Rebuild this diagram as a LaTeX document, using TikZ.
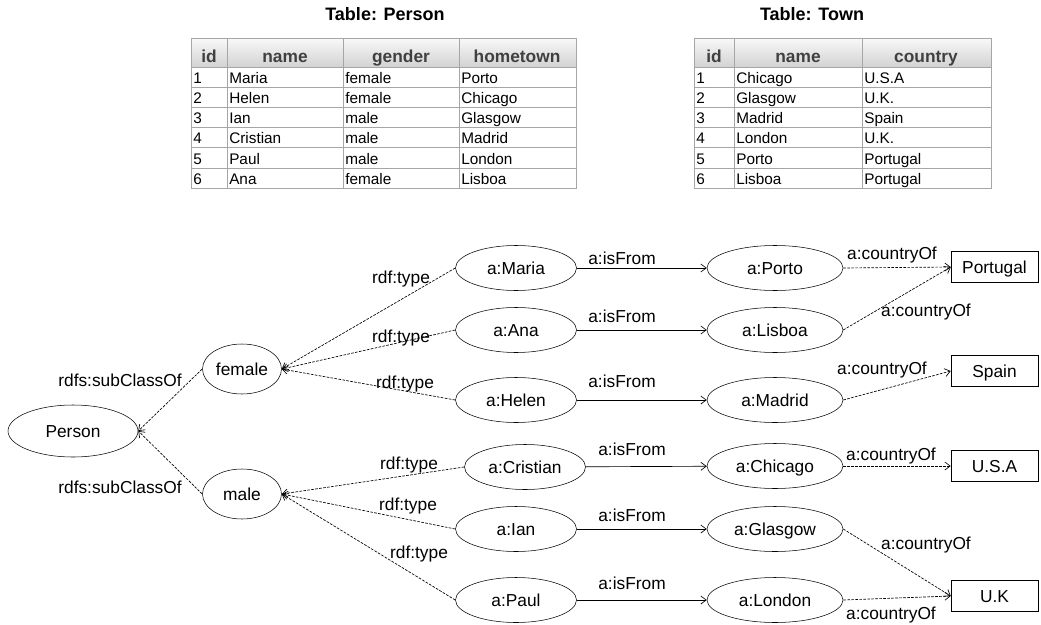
\documentclass[tikz,border=0pt]{standalone}
\usepackage{fontspec}
\setmainfont{Liberation Sans}
\usetikzlibrary{shapes.geometric,arrows.meta}

\begin{document}
\begin{tikzpicture}[x=0.75pt, y=-0.75pt,
    every node/.style={font=\fontsize{13}{15}\selectfont, text height=9.3pt, text depth=0pt},
    cls/.style={draw, ellipse, inner sep=0pt, minimum width=59.25pt, minimum height=37.5pt},
    ind/.style={draw, ellipse, inner sep=0pt, minimum width=90.75pt, minimum height=33.75pt},
    town/.style={draw, ellipse, inner sep=0pt, minimum width=102pt, minimum height=33.75pt},
    lit/.style={draw, rectangle, inner sep=0pt, minimum width=65.25pt, minimum height=23.25pt},
    rel/.style={-{Straight Barb[length=4pt,width=6pt]}, line width=0.5pt},
    dotrel/.style={rel, dash pattern=on 2pt off 1pt},
    cell/.style={anchor=base west, inner sep=0pt, font=\fontsize{11.5}{13}\selectfont},
    head/.style={anchor=base, inner sep=0pt, text=black!75, font=\bfseries\fontsize{13}{15}\selectfont},
    tabline/.style={draw=black!35, line width=0.75pt}]
    \useasboundingbox (0, 0) rectangle (1041, 624) ;

    \node[anchor=base, font=\bfseries\fontsize{13.5}{15}\selectfont] (ptitle) at (385, 21) {Table: Person} ;
    \shade[top color=black!3, bottom color=black!18] (191, 39) rectangle (576, 68) ;
    \foreach \y in {68, 88, ..., 168} \draw[tabline] (191, \y) -- (576, \y) ;
    \foreach \x in {227, 343, 459} \draw[tabline] (\x, 39) -- (\x, 188) ;
    \draw[tabline] (191, 39) rectangle (576, 188) ;
    \node[head] (phid) at (209, 62.5) {id} ;
    \node[head] (phname) at (285, 62.5) {name} ;
    \node[head] (phgender) at (401, 62.5) {gender} ;
    \node[head] (phtown) at (517, 62.5) {hometown} ;
    \foreach \pid/\pnm/\pgd/\phome [count=\r] in {1/Maria/female/Porto, 2/Helen/female/Chicago,
        3/Ian/male/Glasgow, 4/Cristian/male/Madrid, 5/Paul/male/London, 6/Ana/female/Lisboa} {
      \node[cell] (pid\r) at (193, 64+20*\r) {\pid} ;
      \node[cell] (pname\r) at (229, 64+20*\r) {\pnm} ;
      \node[cell] (pgender\r) at (345, 64+20*\r) {\pgd} ;
      \node[cell] (ptown\r) at (461, 64+20*\r) {\phome} ;
    }

    \node[anchor=base, font=\bfseries\fontsize{13.5}{15}\selectfont] (ttitle) at (812, 21) {Table: Town} ;
    \shade[top color=black!3, bottom color=black!18] (694, 39) rectangle (991, 68) ;
    \foreach \y in {68, 88, ..., 168} \draw[tabline] (694, \y) -- (991, \y) ;
    \foreach \x in {734, 862} \draw[tabline] (\x, 39) -- (\x, 188) ;
    \draw[tabline] (694, 39) rectangle (991, 188) ;
    \node[head] (thid) at (714, 62.5) {id} ;
    \node[head] (thname) at (798, 62.5) {name} ;
    \node[head] (thcountry) at (926, 62.5) {country} ;
    \foreach \tid/\tnm/\tct [count=\r] in {1/Chicago/U.S.A, 2/Glasgow/U.K., 3/Madrid/Spain,
        4/London/U.K., 5/Porto/Portugal, 6/Lisboa/Portugal} {
      \node[cell] (tid\r) at (696, 64+20*\r) {\tid} ;
      \node[cell] (tname\r) at (736, 64+20*\r) {\tnm} ;
      \node[cell] (tcountry\r) at (864, 64+20*\r) {\tct} ;
    }

    \node[draw, ellipse, inner sep=0pt, minimum width=97.5pt, minimum height=39pt] (person) at (73, 431) {Person} ;
    \node[cls] (female) at (242, 369) {female} ;
    \node[cls] (male) at (242, 494) {male} ;

    \node[ind] (maria) at (516, 268) {a:Maria} ;
    \node[ind] (ana) at (516, 330) {a:Ana} ;
    \node[ind] (helen) at (516, 400) {a:Helen} ;
    \node[ind] (cristian) at (525, 467) {a:Cristian} ;
    \node[ind] (ian) at (516, 529) {a:Ian} ;
    \node[ind] (paul) at (516, 600) {a:Paul} ;

    \node[town] (porto) at (775, 268) {a:Porto} ;
    \node[town] (lisboa) at (775, 330) {a:Lisboa} ;
    \node[town] (madrid) at (775, 400) {a:Madrid} ;
    \node[town] (chicago) at (775, 466) {a:Chicago} ;
    \node[town] (glasgow) at (775, 529) {a:Glasgow} ;
    \node[town] (london) at (775, 600) {a:London} ;

    \node[lit] (portugal) at (994.5, 267) {Portugal} ;
    \node[lit] (spain) at (994.5, 371) {Spain} ;
    \node[lit] (usa) at (994.5, 466) {U.S.A} ;
    \node[lit] (uk) at (994.5, 596) {U.K} ;

    \draw[dotrel] (female.west) -- (person.east) ;
    \draw[dotrel] (male.west) -- (person.east) ;
    \node (lsub1) at (120, 380) {rdfs:subClassOf} ;
    \node (lsub2) at (120, 487) {rdfs:subClassOf} ;

    \draw[dotrel] (maria.west) -- (female.east) ;
    \draw[dotrel] (ana.west) -- (female.east) ;
    \draw[dotrel] (helen.west) -- (female.east) ;
    \draw[dotrel] (cristian.west) -- (male.east) ;
    \draw[dotrel] (ian.west) -- (male.east) ;
    \draw[dotrel] (paul.west) -- (male.east) ;
    \node (ltype1) at (401, 277) {rdf:type} ;
    \node (ltype2) at (401, 336) {rdf:type} ;
    \node (ltype3) at (405, 382) {rdf:type} ;
    \node (ltype4) at (409, 463) {rdf:type} ;
    \node (ltype5) at (408, 504) {rdf:type} ;
    \node (ltype6) at (419, 552) {rdf:type} ;

    \draw[rel] (maria) -- (porto) ;
    \draw[rel] (ana) -- (lisboa) ;
    \draw[rel] (helen) -- (madrid) ;
    \draw[rel] (cristian) -- (chicago) ;
    \draw[rel] (ian) -- (glasgow) ;
    \draw[rel] (paul) -- (london) ;
    \node (lfrom1) at (622, 258) {a:isFrom} ;
    \node (lfrom2) at (622, 316) {a:isFrom} ;
    \node (lfrom3) at (622, 381) {a:isFrom} ;
    \node (lfrom4) at (632, 449) {a:isFrom} ;
    \node (lfrom5) at (632, 515) {a:isFrom} ;
    \node (lfrom6) at (632, 583) {a:isFrom} ;

    \draw[dotrel] (porto.east) -- (portugal.west) ;
    \draw[dotrel] (lisboa.east) -- (portugal.west) ;
    \draw[dotrel] (madrid.east) -- (spain.west) ;
    \draw[dotrel] (chicago.east) -- (usa.west) ;
    \draw[dotrel] (glasgow.east) -- (uk.west) ;
    \draw[dotrel] (london.east) -- (uk.west) ;
    \node (lof1) at (892, 253) {a:countryOf} ;
    \node (lof2) at (926, 310) {a:countryOf} ;
    \node (lof3) at (882, 368) {a:countryOf} ;
    \node (lof4) at (891, 454) {a:countryOf} ;
    \node (lof5) at (926, 543) {a:countryOf} ;
    \node (lof6) at (891, 613) {a:countryOf} ;
\end{tikzpicture}
\end{document}
